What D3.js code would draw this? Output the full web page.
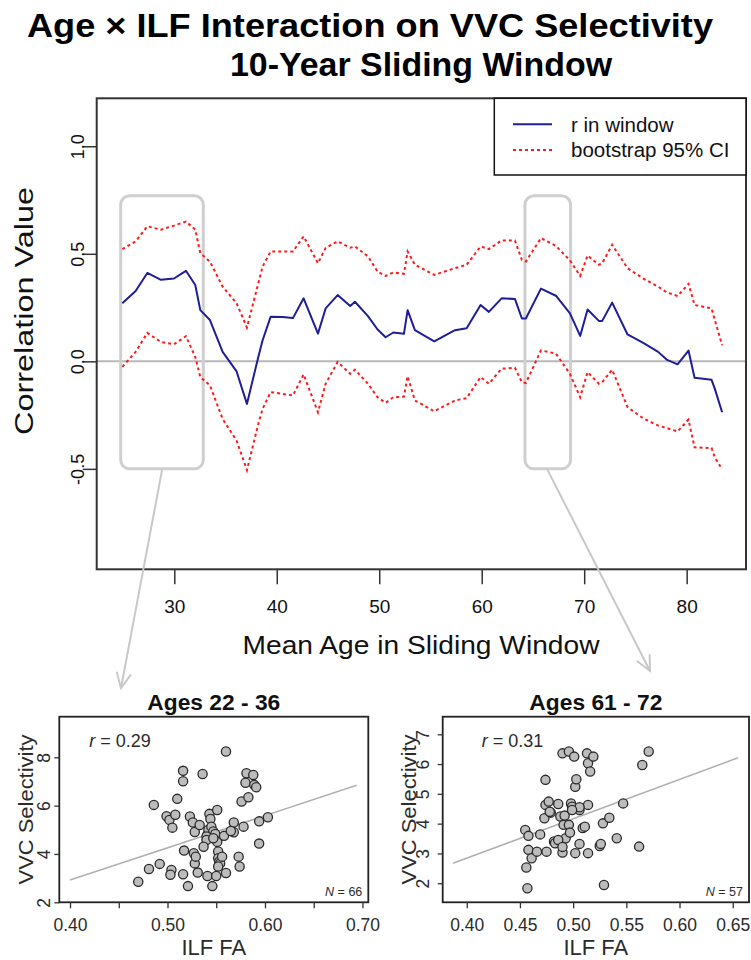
<!DOCTYPE html>
<html>
<head>
<meta charset="utf-8">
<title>Age x ILF Interaction on VVC Selectivity</title>
<script src="https://cdnjs.cloudflare.com/ajax/libs/d3/7.8.5/d3.min.js"></script>
<style>
    body { margin: 0; background: #fff; }
    svg { display: block; font-family: "Liberation Sans", Arial, sans-serif; }
</style>
</head>
<body>
<svg id="chart" width="751" height="960"></svg>
<script>
// mean age of each 10-year sliding window
const ages = [24.93, 26.23, 27.37, 28.70, 29.97, 31.14, 32.05, 32.54, 33.48, 34.72,
              36.08, 37.09, 38.20, 38.62, 39.40, 40.54, 41.58, 42.62, 44.02, 44.77,
              45.94, 47.17, 47.63, 48.90, 49.84, 50.62, 51.37, 52.41, 52.77, 53.48,
              55.37, 57.39, 58.53, 59.89, 60.70, 61.94, 63.24, 63.92, 64.31, 65.78,
              67.24, 68.61, 69.61, 70.33, 71.43, 71.76, 72.73, 74.23, 75.76, 77.22,
              78.04, 79.11, 80.18, 80.77, 82.43, 82.75, 83.46];
// r in window
const rWindow = [0.270, 0.327, 0.411, 0.379, 0.385, 0.421, 0.355, 0.238, 0.192, 0.044,
                 -0.047, -0.198, 0.020, 0.098, 0.207, 0.206, 0.201, 0.293, 0.129, 0.246,
                 0.308, 0.257, 0.277, 0.210, 0.148, 0.112, 0.134, 0.128, 0.238, 0.145,
                 0.093, 0.145, 0.154, 0.262, 0.230, 0.293, 0.290, 0.199, 0.199, 0.338,
                 0.305, 0.223, 0.118, 0.241, 0.188, 0.188, 0.273, 0.125, 0.086, 0.044,
                 0.008, -0.014, 0.050, -0.076, -0.086, -0.128, -0.237];
// bootstrap 95% CI
const ciUpper = [0.522, 0.558, 0.628, 0.612, 0.631, 0.650, 0.612, 0.503, 0.464, 0.347,
                 0.270, 0.157, 0.363, 0.441, 0.511, 0.511, 0.511, 0.581, 0.456, 0.527,
                 0.558, 0.528, 0.534, 0.488, 0.417, 0.397, 0.413, 0.407, 0.511, 0.449,
                 0.402, 0.433, 0.449, 0.534, 0.522, 0.562, 0.562, 0.472, 0.464, 0.573,
                 0.537, 0.469, 0.397, 0.492, 0.449, 0.456, 0.542, 0.433, 0.385, 0.347,
                 0.321, 0.304, 0.360, 0.262, 0.246, 0.192, 0.075];
const ciLower = [-0.026, 0.044, 0.132, 0.090, 0.079, 0.117, 0.020, -0.073, -0.112, -0.268,
                 -0.369, -0.506, -0.291, -0.221, -0.143, -0.151, -0.159, -0.061, -0.237, -0.104,
                 -0.003, -0.058, -0.039, -0.104, -0.167, -0.193, -0.167, -0.164, -0.069, -0.182,
                 -0.232, -0.182, -0.171, -0.073, -0.104, -0.034, -0.030, -0.097, -0.101, 0.051,
                 0.036, -0.058, -0.167, -0.050, -0.104, -0.097, -0.039, -0.213, -0.265, -0.299,
                 -0.310, -0.326, -0.271, -0.400, -0.403, -0.447, -0.502];

const ageTicks = [30, 40, 50, 60, 70, 80];
const corrTicks = [-0.5, 0.0, 0.5, 1.0];

// highlighted windows (age range and r range of the grey boxes)
const highlightAges = [[24.77, 32.83], [64.22, 68.67]];
const highlightR = [-0.50, 0.77];

// scatter: ages 22 - 36
const youngFA = [0.470, 0.481, 0.492, 0.486, 0.504, 0.503, 0.499, 0.502, 0.505, 0.508,
                 0.510, 0.516, 0.516, 0.516, 0.517, 0.521, 0.523, 0.526, 0.527, 0.528,
                 0.528, 0.529, 0.531, 0.536, 0.541, 0.541, 0.542, 0.543, 0.544, 0.545,
                 0.547, 0.549, 0.550, 0.551, 0.551, 0.552, 0.552, 0.553, 0.546, 0.558,
                 0.560, 0.560, 0.568, 0.568, 0.573, 0.574, 0.576, 0.578, 0.581, 0.580,
                 0.583, 0.588, 0.589, 0.591, 0.594, 0.603, 0.594, 0.554, 0.540, 0.540,
                 0.556, 0.533, 0.537, 0.547, 0.552, 0.565];
const youngVVC = [2.85, 3.38, 3.59, 6.03, 3.34, 3.14, 5.56, 5.41, 5.09, 5.62,
                  6.28, 7.44, 7.01, 3.16, 4.14, 2.67, 5.55, 5.30, 4.03, 4.91,
                  3.61, 3.89, 3.23, 7.31, 3.09, 4.80, 5.00, 5.66, 5.45, 5.13,
                  4.93, 4.83, 3.09, 5.82, 4.50, 4.10, 3.82, 3.68, 2.67, 4.75,
                  3.21, 8.24, 4.90, 5.30, 3.89, 3.48, 6.17, 5.13, 7.34, 6.95,
                  6.35, 7.27, 6.86, 6.76, 5.35, 5.52, 4.43, 3.61, 4.72, 4.58,
                  3.89, 5.20, 4.30, 4.65, 3.48, 4.95];
const youngFit = [[0.400, 2.92], [0.694, 6.84]];

// scatter: ages 61 - 72
const oldFA = [0.457, 0.456, 0.458, 0.461, 0.455, 0.458, 0.469, 0.466, 0.474, 0.474,
               0.477, 0.473, 0.475, 0.479, 0.482, 0.483, 0.486, 0.488, 0.490, 0.490,
               0.491, 0.493, 0.492, 0.496, 0.496, 0.498, 0.499, 0.501, 0.502, 0.503,
               0.502, 0.506, 0.506, 0.509, 0.511, 0.513, 0.514, 0.516, 0.514, 0.514,
               0.519, 0.525, 0.526, 0.528, 0.529, 0.534, 0.541, 0.547, 0.562, 0.565,
               0.571, 0.478, 0.506, 0.486, 0.499, 0.497, 0.490];
const oldVVC = [1.83, 2.53, 3.12, 2.84, 3.79, 3.59, 3.64, 3.06, 5.47, 4.63,
                4.74, 4.18, 3.06, 4.37, 3.40, 3.34, 4.66, 4.24, 6.36, 3.03,
                3.96, 3.51, 4.27, 6.42, 3.96, 4.68, 4.57, 6.25, 5.24, 5.49,
                3.01, 4.46, 3.32, 3.85, 3.90, 6.36, 6.03, 5.75, 4.63, 3.01,
                6.25, 3.25, 3.32, 4.01, 1.94, 4.20, 3.51, 4.68, 3.23, 5.97,
                6.42, 4.40, 4.55, 3.45, 4.46, 3.70, 3.22];
const oldFit = [[0.387, 2.67], [0.655, 6.21]];

const svg = d3.select("#chart");

// ---------- title ----------
svg.append("text").attr("x", 370).attr("y", 37)
    .attr("text-anchor", "middle").attr("font-size", 34).attr("font-weight", "bold")
    .attr("textLength", 686).attr("lengthAdjust", "spacingAndGlyphs")
    .text("Age \u00d7 ILF Interaction on VVC Selectivity");
svg.append("text").attr("x", 421).attr("y", 76)
    .attr("text-anchor", "middle").attr("font-size", 34).attr("font-weight", "bold")
    .attr("textLength", 382).attr("lengthAdjust", "spacingAndGlyphs")
    .text("10-Year Sliding Window");

// ---------- main plot ----------
const main = {left: 96.7, right: 746, top: 98.3, bottom: 569.3};

const x = d3.scaleLinear().domain([22.43, 85.79]).range([main.left, main.right]);
const y = d3.scaleLinear().domain([-0.967, 1.223]).range([main.bottom, main.top]);

// zero line
svg.append("line")
    .attr("x1", main.left).attr("x2", main.right)
    .attr("y1", y(0)).attr("y2", y(0))
    .attr("stroke", "#b8b8b8").attr("stroke-width", 2);

// grey boxes round the highlighted windows
highlightAges.forEach(a => {
    svg.append("rect")
        .attr("x", x(a[0])).attr("y", y(highlightR[1]))
        .attr("width", x(a[1]) - x(a[0]))
        .attr("height", y(highlightR[0]) - y(highlightR[1]))
        .attr("rx", 9).attr("ry", 9)
        .attr("fill", "none").attr("stroke", "#cfcfcf").attr("stroke-width", 3);
});

const idx = d3.range(ages.length);
const lineOf = arr => d3.line().x(i => x(ages[i])).y(i => y(arr[i]));

[ciUpper, ciLower].forEach(arr => {
    svg.append("path").datum(idx)
        .attr("d", lineOf(arr))
        .attr("fill", "none").attr("stroke", "#ff1a1a").attr("stroke-width", 2)
        .attr("stroke-dasharray", "3,3");
});
svg.append("path").datum(idx)
    .attr("d", lineOf(rWindow))
    .attr("fill", "none").attr("stroke", "#1e1e96").attr("stroke-width", 2)
    .attr("stroke-linejoin", "round");

// frame
svg.append("rect")
    .attr("x", main.left).attr("y", main.top)
    .attr("width", main.right - main.left).attr("height", main.bottom - main.top)
    .attr("fill", "none").attr("stroke", "#333").attr("stroke-width", 2);

// axes
const xAxis = svg.append("g")
    .attr("transform", `translate(0,${main.bottom})`)
    .call(d3.axisBottom(x).tickValues(ageTicks).tickSize(15).tickPadding(15).tickFormat(d3.format("d")));
xAxis.select(".domain").remove();
xAxis.selectAll("line").attr("stroke", "#333").attr("stroke-width", 1.5);
xAxis.selectAll("text").attr("font-size", 19).attr("fill", "#111")
    .attr("font-family", "Liberation Sans, Arial, sans-serif");

const yAxis = svg.append("g")
    .attr("transform", `translate(${main.left},0)`)
    .call(d3.axisLeft(y).tickValues(corrTicks).tickSize(14).tickFormat(d3.format(".1f")));
yAxis.select(".domain").remove();
yAxis.selectAll("line").attr("stroke", "#333").attr("stroke-width", 1.5);
yAxis.selectAll("text")
    .attr("x", 0).attr("dy", 0)
    .attr("transform", "translate(-12.5,0) rotate(-90)")
    .attr("text-anchor", "middle")
    .attr("font-size", 18).attr("fill", "#111")
    .attr("font-family", "Liberation Sans, Arial, sans-serif")
    .text(d => d3.format(".1f")(d).replace("\u2212", "-"));

svg.append("text").attr("x", 421).attr("y", 654)
    .attr("text-anchor", "middle").attr("font-size", 26)
    .attr("textLength", 357).attr("lengthAdjust", "spacingAndGlyphs")
    .attr("fill", "#111")
    .text("Mean Age in Sliding Window");
svg.append("text")
    .attr("transform", `translate(33,311) rotate(-90)`)
    .attr("text-anchor", "middle").attr("font-size", 26)
    .attr("textLength", 248).attr("lengthAdjust", "spacingAndGlyphs")
    .attr("fill", "#111")
    .text("Correlation Value");

// legend
const lg = svg.append("g");
lg.append("rect")
    .attr("x", 494.3).attr("y", main.top)
    .attr("width", main.right - 494.3).attr("height", 76.7)
    .attr("fill", "#fff").attr("stroke", "#111").attr("stroke-width", 1.5);
lg.append("line").attr("x1", 513).attr("x2", 552).attr("y1", 124.3).attr("y2", 124.3)
    .attr("stroke", "#1e1e96").attr("stroke-width", 2);
lg.append("line").attr("x1", 513).attr("x2", 552).attr("y1", 150).attr("y2", 150)
    .attr("stroke", "#ff1a1a").attr("stroke-width", 2).attr("stroke-dasharray", "3,3");
lg.append("text").attr("x", 571).attr("y", 131.5).attr("font-size", 20.5).attr("fill", "#111")
    .text("r in window");
lg.append("text").attr("x", 571).attr("y", 157).attr("font-size", 20.5).attr("fill", "#111")
    .text("bootstrap 95% CI");

// ---------- scatter panels ----------
function scatterPanel(p) {
    const g = svg.append("g");
    const sx = d3.scaleLinear().domain(p.xDomain).range([p.box.left, p.box.right]);
    const sy = d3.scaleLinear().domain(p.yDomain).range([p.box.bottom, p.box.top]);

    // fit line
    g.append("line")
        .attr("x1", sx(p.fit[0][0])).attr("y1", sy(p.fit[0][1]))
        .attr("x2", sx(p.fit[1][0])).attr("y2", sy(p.fit[1][1]))
        .attr("stroke", "#b0b0b0").attr("stroke-width", 1.5);

    g.selectAll("circle").data(p.fa).enter().append("circle")
        .attr("cx", d => sx(d))
        .attr("cy", (d, i) => sy(p.vvc[i]))
        .attr("r", 4.6)
        .attr("fill", "#bcbcbc").attr("stroke", "#2a2a2a").attr("stroke-width", 1.3);

    g.append("rect")
        .attr("x", p.box.left).attr("y", p.box.top)
        .attr("width", p.box.right - p.box.left).attr("height", p.box.bottom - p.box.top)
        .attr("fill", "none").attr("stroke", "#222").attr("stroke-width", 1.8);

    const xa = g.append("g").attr("transform", `translate(0,${p.box.bottom})`)
        .call(d3.axisBottom(sx).tickValues(p.xTicks).tickSize(6).tickPadding(10.5)
            .tickFormat(d => p.xLabels.some(v => Math.abs(v - d) < 1e-9) ? d3.format(".2f")(d) : ""));
    xa.select(".domain").remove();
    xa.selectAll("line").attr("stroke", "#333").attr("stroke-width", 1.3);
    xa.selectAll("text").attr("font-size", 17.5).attr("fill", "#2b2b2b")
        .attr("font-family", "Liberation Sans, Arial, sans-serif");

    const ya = g.append("g").attr("transform", `translate(${p.box.left},0)`)
        .call(d3.axisLeft(sy).tickValues(p.yTicks).tickSize(5).tickFormat(d3.format("d")));
    ya.select(".domain").remove();
    ya.selectAll("line").attr("stroke", "#333").attr("stroke-width", 1.3);
    ya.selectAll("text")
        .attr("x", 0).attr("dy", 0)
        .attr("transform", `translate(${p.yTickBase},0) rotate(-90)`)
        .attr("text-anchor", "middle")
        .attr("font-size", 17.5).attr("fill", "#2b2b2b")
        .attr("font-family", "Liberation Sans, Arial, sans-serif");

    const cx = (p.box.left + p.box.right) / 2;
    g.append("text").attr("x", cx).attr("y", 709.5)
        .attr("text-anchor", "middle").attr("font-size", 21.5).attr("font-weight", "bold")
        .attr("textLength", 133).attr("lengthAdjust", "spacingAndGlyphs")
        .attr("fill", "#111")
        .text(p.title);

    g.append("text").attr("x", cx).attr("y", 955)
        .attr("text-anchor", "middle").attr("font-size", 22).attr("fill", "#2b2b2b")
        .text("ILF FA");

    g.append("text")
        .attr("transform", `translate(${p.box.left - 26.3},${(p.box.top + p.box.bottom) / 2}) rotate(-90)`)
        .attr("text-anchor", "middle").attr("font-size", 21).attr("fill", "#2b2b2b")
        .attr("textLength", 150).attr("lengthAdjust", "spacingAndGlyphs")
        .text("VVC Selectivity");

    const rt = g.append("text").attr("x", p.box.left + p.rOffset).attr("y", 747)
        .attr("font-size", 18).attr("fill", "#2b2b2b");
    rt.append("tspan").attr("font-style", "italic").text("r");
    rt.append("tspan").text(" = " + p.r);

    const nt = g.append("text").attr("x", p.box.right - 6).attr("y", 896)
        .attr("text-anchor", "end").attr("font-size", 12.5).attr("fill", "#2b2b2b");
    nt.append("tspan").attr("font-style", "italic").text("N");
    nt.append("tspan").text(" = " + p.n);
}

scatterPanel({
    box: {left: 59.3, right: 368.3, top: 716.7, bottom: 902.3},
    xDomain: [0.389, 0.706], yDomain: [2, 9.68],
    xTicks: [0.40, 0.45, 0.50, 0.55, 0.60, 0.65, 0.70], xLabels: [0.40, 0.50, 0.60, 0.70],
    yTicks: [2, 4, 6, 8], yTickBase: -9.5,
    fa: youngFA, vvc: youngVVC, fit: youngFit,
    title: "Ages 22 - 36", r: "0.29", n: 66, rOffset: 30
});
scatterPanel({
    box: {left: 442.7, right: 749, top: 716.7, bottom: 902.3},
    xDomain: [0.3774, 0.6653], yDomain: [1.36, 7.59],
    xTicks: [0.40, 0.45, 0.50, 0.55, 0.60, 0.65], xLabels: [0.40, 0.45, 0.50, 0.55, 0.60, 0.65],
    yTicks: [2, 3, 4, 5, 6, 7], yTickBase: -13.5,
    fa: oldFA, vvc: oldVVC, fit: oldFit,
    title: "Ages 61 - 72", r: "0.31", n: 57, rOffset: 39
});

// ---------- arrows from the highlighted windows to the scatter panels ----------
const arrowTips = [[121, 688], [650, 671]];
highlightAges.forEach((a, i) => {
    const x0 = x((a[0] + a[1]) / 2), y0 = y(highlightR[0]) + 1.5;
    const [x1, y1] = arrowTips[i];
    const ang = Math.atan2(y1 - y0, x1 - x0);
    const len = 16, spread = Math.PI / 7;
    const g = svg.append("g").attr("stroke", "#c8c8c8").attr("stroke-width", 2)
        .attr("fill", "none").attr("stroke-linecap", "round");
    g.append("line").attr("x1", x0).attr("y1", y0).attr("x2", x1).attr("y2", y1);
    g.append("path").attr("d",
        `M${x1 - len * Math.cos(ang - spread)},${y1 - len * Math.sin(ang - spread)}` +
        `L${x1},${y1}` +
        `L${x1 - len * Math.cos(ang + spread)},${y1 - len * Math.sin(ang + spread)}`);
});
</script>
</body>
</html>
